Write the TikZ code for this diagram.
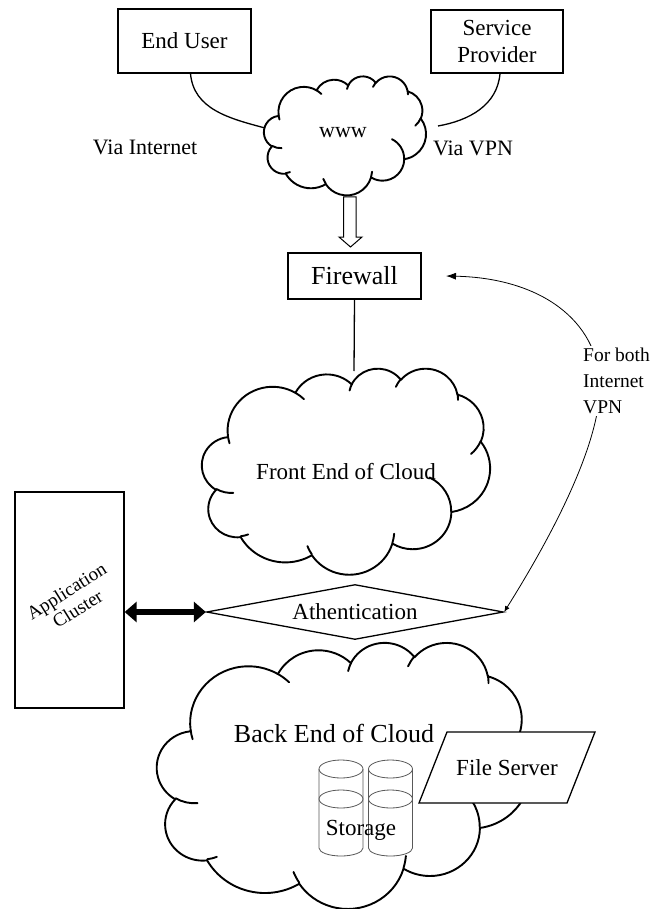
\documentclass[tikz,border=0pt]{standalone}
\usepackage{fontspec}
\setmainfont{Liberation Serif}
\usetikzlibrary{arrows.meta,shapes.geometric,calc}

% ---------- cloud drawing (Office-style cloud), path units 4320 x 4320 ----------
\newcommand\cldmove[2]{%
  \pgfmathsetmacro\cldpx{\cldx+#1*\cldsx}%
  \pgfmathsetmacro\cldpy{0-\cldy-#2*\cldsy}%
  \pgfpathmoveto{\pgfpoint{\cldpx pt}{\cldpy pt}}}
\newcommand\cldarc[4]{%
  \pgfmathsetmacro\cldcA{#3}%
  \pgfmathsetmacro\cldcB{#3+#4}%
  \pgfmathsetmacro\cldtA{atan2(#1*sin(\cldcA),#2*cos(\cldcA))}%
  \pgfmathsetmacro\cldtB{atan2(#1*sin(\cldcB),#2*cos(\cldcB))}%
  \pgfmathsetmacro\clddT{mod(\cldtB-\cldtA+720,360)}%
  \pgfmathsetmacro\cldsA{0-\cldtA}%
  \pgfmathsetmacro\cldeA{0-\cldtA-\clddT}%
  \pgfmathsetmacro\cldrX{#1*\cldsx}%
  \pgfmathsetmacro\cldrY{#2*\cldsy}%
  \pgfpatharc{\cldsA}{\cldeA}{\cldrX pt and \cldrY pt}}
\newcommand\mycloud[4]{%
  \pgfmathsetmacro\cldx{#1}\pgfmathsetmacro\cldy{#2}%
  \pgfmathsetmacro\cldsx{#3/4320}\pgfmathsetmacro\cldsy{#4/4320}%
  \begin{pgfscope}
  \pgfsetlinewidth{1.9pt}\pgfsetroundjoin\pgfsetroundcap
  \cldmove{390.0}{1437.0}%
  \cldarc{675.3}{919.0}{-190.4875}{123.7805}%
  \cldarc{533.3}{726.7}{-144.1024}{89.9452}%
  \cldarc{436.5}{594.5}{-145.8079}{99.7230}%
  \cldarc{485.7}{659.5}{-130.9861}{117.2417}%
  \cldarc{533.3}{727.3}{-78.7089}{109.0269}%
  \cldarc{677.5}{922.0}{-46.2673}{130.2690}%
  \cldarc{578.5}{786.7}{0.6250}{114.0333}%
  \cldarc{675.2}{921.5}{22.4516}{115.1726}%
  \cldarc{772.0}{1054.3}{66.2426}{75.7110}%
  \cldarc{436.0}{591.8}{-274.9421}{146.7356}%
  \cldarc{434.5}{594.5}{-246.8285}{152.5187}%
  \pgfpathclose
  \pgfsetfillcolor{white}%
  \pgfusepath{fill,stroke}%
  \cldmove{469.3}{2617.7}\cldarc{434.5}{594.5}{86.7420}{26.4295}%
  \cldmove{692.8}{3489.9}\cldarc{436.0}{591.8}{73.6105}{11.4475}%
  \cldmove{1647.8}{3909.0}\cldarc{675.2}{921.5}{137.6242}{14.0811}%
  \cldmove{2882.7}{3475.1}\cldarc{675.2}{921.5}{6.4533}{15.9984}%
  \cldmove{3412.9}{2295.4}\cldarc{578.5}{786.7}{-70.2924}{70.9174}%
  \cldmove{4179.8}{1535.4}\cldarc{533.3}{727.3}{30.3180}{27.7515}%
  \cldmove{3832.4}{542.6}\cldarc{485.7}{659.5}{-13.7443}{14.8589}%
  \cldmove{2907.8}{395.2}\cldarc{485.7}{659.5}{-149.1815}{18.1954}%
  \cldmove{2214.1}{472.0}\cldarc{436.5}{594.5}{-163.4943}{17.6864}%
  \cldmove{1400.0}{519.2}\cldarc{675.3}{919.0}{-66.7070}{12.3194}%
  \cldmove{412.7}{1578.9}\cldarc{675.3}{919.0}{157.6544}{11.8582}%
  \pgfusepath{stroke}%
  \end{pgfscope}}

\tikzset{
  box/.style={draw, line width=1.3pt, inner sep=0pt, align=center},
  txt/.style={inner sep=0pt, align=center},
  fs23/.style={font=\fontsize{23}{27}\selectfont},
  cyl/.style={draw=black!65, line width=0.8pt},
}

\begin{document}
\begin{tikzpicture}[x=1pt,y=1pt]
\fill[white, use as bounding box] (0,0) rectangle (652,-909);

% top boxes
\node[box, fs23, minimum width=133pt, minimum height=64pt] (eu) at (184.5,-41) {End User};
\node[box, fs23, minimum width=132pt, minimum height=63pt] (sp) at (497,-41.5) {Service\\Provider};

% www cloud
\mycloud{264}{76}{162}{119}
\node[txt, font=\fontsize{22}{24}\selectfont] (www) at (343,-133) {www};
\coordinate (wwwW) at (265,-128);
\coordinate (wwwE) at (438,-126);
\draw[line width=1.3pt] ([xshift=6pt]eu.south) to[out=-85,in=165] (wwwW);
\draw[line width=1.3pt] ([xshift=3pt]sp.south) to[out=-95,in=10] (wwwE);
\node[txt, font=\fontsize{22}{24}\selectfont] (vi) at (145,-147) {Via Internet};
\node[txt, font=\fontsize{22}{24}\selectfont] (vv) at (473,-148) {Via VPN};

% hollow arrow
\draw[line width=1pt, fill=white] (343.5,-197) -- (356,-197) -- (356,-237) -- (362,-237)
  -- (350.5,-247) -- (339,-237) -- (343.5,-237) -- cycle;

% firewall
\node[box, font=\fontsize{26}{28}\selectfont, minimum width=133pt, minimum height=46pt] (fw) at (354.5,-276) {Firewall};

% front cloud
\mycloud{202}{368}{288}{206}
\node[txt, fs23] (front) at (346,-472) {Front End of Cloud};
\coordinate (frontN) at (354,-371);
\draw[line width=1.3pt] (fw.south) -- (frontN);

% authentication
\node[draw, diamond, line width=1.3pt, inner sep=0pt, shape aspect=5.4,
      minimum width=297pt, minimum height=55pt, fs23] (auth) at (355,-612) {Athentication};

% application cluster
\node[box, minimum width=109pt, minimum height=216pt] (app) at (69.5,-600) {};
\node[txt, rotate=32, font=\fontsize{19}{21}\selectfont] (appT) at (72,-600) {Application\\Cluster};
\draw[line width=6pt, {Triangle[length=12pt,width=20pt]}-{Triangle[length=12pt,width=20pt]}]
  (auth.west -| app.east) -- (auth.west);

% curved arrow to firewall
\coordinate (fwin) at (446,-276);
\coordinate (turn) at (600,-385);
\draw[line width=0.8pt, {Latex[length=6pt,width=5pt]}-{Latex[length=10pt,width=7pt]}]
  (auth.east) .. controls (543,-550) and (600,-450) .. (turn)
  .. controls (598,-320) and (540,-278) .. (fwin);
\node[fill=white, inner sep=2pt, align=left, font=\fontsize{19.5}{26}\selectfont] (both) at (616.5,-381) {For both\\Internet\\VPN};

% back cloud
\mycloud{157}{642}{373}{266}
\node[txt, font=\fontsize{26}{28}\selectfont] (back) at (334,-733) {Back End of Cloud};

% storage cylinders
\foreach \cx in {341,390.5} {
  \draw[cyl] (\cx-22,-769) -- (\cx-22,-848) arc[start angle=180,end angle=360,x radius=22pt,y radius=8pt] -- (\cx+22,-769);
  \draw[cyl] (\cx,-769) ellipse[x radius=22pt, y radius=9pt];
  \draw[cyl] (\cx,-799) ellipse[x radius=22pt, y radius=9pt];
}
\node[txt, fs23] (stor) at (361,-830) {Storage};

% file server
\draw[line width=1.3pt, fill=white] (447,-732) -- (595,-732) -- (567,-803) -- (419,-803) -- cycle;
\node[txt, fs23] (fsrv) at (507,-768) {File Server};
\end{tikzpicture}
\end{document}
